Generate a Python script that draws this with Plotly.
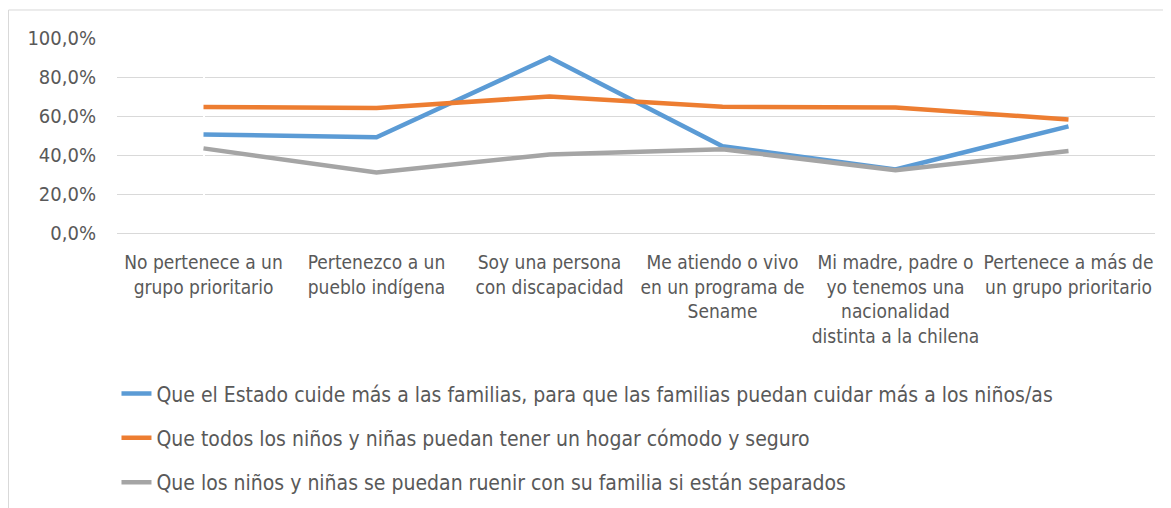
import plotly.graph_objects as go

categories = [
    "No pertenece a un<br>grupo prioritario",
    "Pertenezco a un<br>pueblo indígena",
    "Soy una persona<br>con discapacidad",
    "Me atiendo o vivo<br>en un programa de<br>Sename",
    "Mi madre, padre o<br>yo tenemos una<br>nacionalidad<br>distinta a la chilena",
    "Pertenece a más de<br>un grupo prioritario",
]
series_names = [
    "Que el Estado cuide más a las familias, para que las familias puedan cuidar más a los niños/as",
    "Que todos los niños y niñas puedan tener un hogar cómodo y seguro",
    "Que los niños y niñas se puedan ruenir con su familia si están separados",
]
estado = [0.505, 0.491, 0.900, 0.445, 0.326, 0.547]
hogar = [0.646, 0.641, 0.700, 0.647, 0.644, 0.582]
reunir = [0.434, 0.310, 0.403, 0.429, 0.322, 0.420]
colors = ["#5B9BD5", "#ED7D31", "#A5A5A5"]
tick_vals = [0, 0.2, 0.4, 0.6, 0.8, 1.0]

FONT = "DejaVu Sans Condensed, Liberation Sans Narrow, sans-serif"

fig = go.Figure()
for i, (name, vals) in enumerate(zip(series_names, [estado, hogar, reunir])):
    fig.add_trace(go.Scatter(
        x=list(range(len(categories))), y=vals, name=name, mode="lines",
        line=dict(color=colors[i], width=4.5), legendgroup=f"g{i}",
    ))

fig.update_layout(
    width=1163, height=500,
    margin=dict(l=109, r=16, t=30, b=275, autoexpand=False),
    paper_bgcolor="white", plot_bgcolor="white",
    separators=",.",
    font=dict(family=FONT, size=19, color="#595959"),
    showlegend=True,
    legend=dict(
        x=-0.0005, xanchor="left", y=-0.72, yanchor="top",
        font=dict(size=21, color="#595959"),
        traceorder="grouped", tracegroupgap=14,
    ),
    shapes=[dict(type="rect", xref="paper", yref="paper",
                 x0=-0.1045, x1=1.2, y0=-1.6, y1=1.1436,
                 line=dict(color="#D9D9D9", width=1), layer="below")],
)
fig.update_xaxes(
    tickvals=list(range(len(categories))), ticktext=categories,
    range=[-0.5, 5.5], showgrid=False, showline=False, ticks="",
    tickfont=dict(size=19), tickangle=0, ticklabelstandoff=16,
)
fig.update_yaxes(
    range=[0, 1], tickvals=tick_vals, tickformat=".1%",
    showgrid=True, gridcolor="#D9D9D9", gridwidth=1.3,
    zeroline=True, zerolinecolor="#D9D9D9", zerolinewidth=1.3,
    showline=False, ticks="", tickfont=dict(size=20), ticklabelstandoff=20,
)
fig.write_html("out.html")
